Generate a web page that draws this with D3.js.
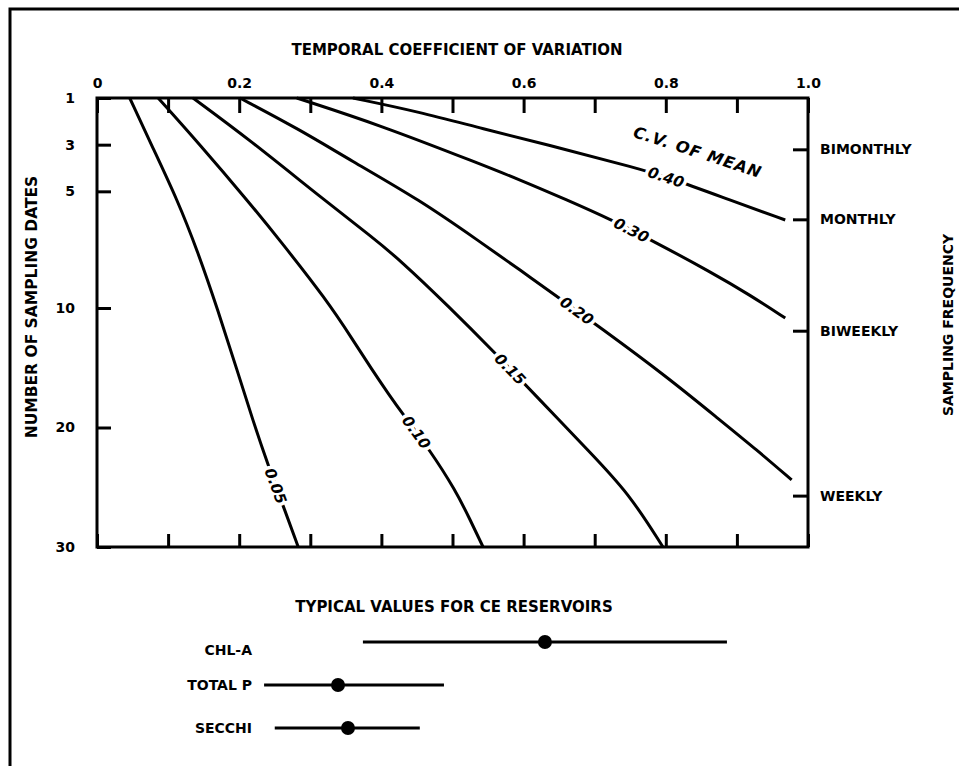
<!DOCTYPE html>
<html>
<head>
<meta charset="utf-8">
<script src="https://cdn.jsdelivr.net/npm/d3@7"></script>
<style>
body { margin: 0; background: #fff; }
text { font-family: "DejaVu Sans", sans-serif; font-weight: bold; fill: #000; }
</style>
</head>
<body>
<script>
// contour levels, c.v. of mean
var levels = ["0.05", "0.10", "0.15", "0.20", "0.30", "0.40"];

// points: [temporal c.v., number of sampling dates]
var curve005 = [[.046,1],[.080,3.23],[.113,5.37],[.141,7.52],[.170,10.17],[.197,15.19],[.219,19.37],[.242,23.39],[.264,26.90],[.283,30]];
var curve010 = [[.086,1],[.145,3.01],[.211,5.37],[.257,7.09],[.323,9.66],[.360,12.68],[.387,15.19],[.411,17.28],[.429,18.79],[.468,21.88],[.504,25.23],[.525,27.74],[.543,30]];
var curve015 = [[.135,1],[.215,2.80],[.316,5.29],[.387,6.96],[.426,7.94],[.494,9.91],[.560,13.77],[.623,17.70],[.693,22.05],[.748,25.50],[.796,30]];
var curve020 = [[.201,1],[.286,2.37],[.356,3.66],[.454,5.37],[.539,7.17],[.595,8.37],[.654,9.66],[.703,11.42],[.802,15.77],[.876,19.37],[.928,21.88],[.977,24.39]];
var curve030 = [[.281,1],[.398,2.16],[.539,3.83],[.595,4.51],[.661,5.37],[.724,6.23],[.774,7.00],[.866,8.50],[.918,9.44],[.968,10.84]];
var curve040 = [[.360,1],[.454,1.60],[.539,2.29],[.651,3.14],[.759,4.00],[.806,4.43],[.890,5.37],[.968,6.23]];
var curves = [curve005, curve010, curve015, curve020, curve030, curve040];
// sampling dates where each contour carries its label
var labelAt = [24.9, 20.4, 15.1, 10.25, 6.66, 4.39];

var xTicks = [0, .1, .2, .3, .4, .5, .6, .7, .8, .9, 1];
var xTickLabels = ["0", "0.2", "0.4", "0.6", "0.8", "1.0"];
var yTicks = [1, 3, 5, 10, 20, 30];
var freqNames = ["BIMONTHLY", "MONTHLY", "BIWEEKLY", "WEEKLY"];
var freqDates = [3.2, 6.2, 11.9, 25.7];

// typical values for CE reservoirs
var reservoirVars = ["CHL-A", "TOTAL P", "SECCHI"];
var rangeLow = [.374, .235, .250];
var rangeHigh = [.886, .488, .454];
var rangeTypical = [.630, .339, .353];

var svg = d3.select("body")
  .append("svg")
    .attr("width", 959)
    .attr("height", 766);

var x = d3.scaleLinear().domain([0, 1]).range([97, 808]);
var y = d3.scaleLinear().domain([1, 10, 30]).range([98, 308, 547]);

// outer frame (top and left only)
svg.append("path")
  .attr("d", "M10,766V9H959")
  .attr("fill", "none")
  .attr("stroke", "#000")
  .attr("stroke-width", 3);

// axes
var styleAxis = function(g, size) {
  g.select(".domain").remove();
  g.selectAll("line").attr("stroke", "#000").attr("stroke-width", 3);
  g.selectAll("text").style("font-size", size + "px");
};

svg.append("g")
  .attr("transform", "translate(0,98)")
  .call(d3.axisTop(x).tickValues(xTicks).tickSize(-15).tickPadding(10)
    .tickFormat(function(d, i) { return i % 2 == 0 ? xTickLabels[i / 2] : ""; }))
  .call(styleAxis, 14);

svg.append("g")
  .attr("transform", "translate(0,547)")
  .call(d3.axisBottom(x).tickValues(xTicks).tickSize(-13).tickFormat(""))
  .call(styleAxis, 14);

svg.append("g")
  .attr("transform", "translate(97,0)")
  .call(d3.axisLeft(y).tickValues(yTicks).tickSize(-14).tickPadding(22))
  .call(styleAxis, 14);

svg.append("g")
  .attr("transform", "translate(808,0)")
  .call(d3.axisRight(y).tickValues(freqDates).tickSize(-15).tickPadding(12)
    .tickFormat(function(d, i) { return freqNames[i]; }))
  .call(styleAxis, 14);

svg.append("rect")
  .attr("x", x(0)).attr("y", y(1))
  .attr("width", x(1) - x(0)).attr("height", y(30) - y(1))
  .attr("fill", "none")
  .attr("stroke", "#000")
  .attr("stroke-width", 3);

// contours
var line = d3.line()
  .x(function(d) { return x(d[0]); })
  .y(function(d) { return y(d[1]); })
  .curve(d3.curveBasis);

var paths = svg.append("g")
  .selectAll("path")
  .data(curves)
  .join("path")
    .attr("d", line)
    .attr("fill", "none")
    .attr("stroke", "#000")
    .attr("stroke-width", 3);

paths.each(function(d, i) {
  var node = this;
  var total = node.getTotalLength();
  var ty = y(labelAt[i]);
  var best = 0, bestDist = 1e9;
  for (var l = 0; l <= total; l += 1) {
    var p = node.getPointAtLength(l);
    if (Math.abs(p.y - ty) < bestDist) { bestDist = Math.abs(p.y - ty); best = l; }
  }
  var p0 = node.getPointAtLength(Math.max(0, best - 10));
  var p1 = node.getPointAtLength(Math.min(total, best + 10));
  var pc = node.getPointAtLength(best);
  var angle = Math.atan2(p1.y - p0.y, p1.x - p0.x) * 180 / Math.PI;
  svg.append("text")
    .attr("transform", "translate(" + pc.x + "," + pc.y + ") rotate(" + angle + ")")
    .attr("text-anchor", "middle")
    .attr("dy", "0.36em")
    .style("font-size", "15px")
    .style("font-style", "italic")
    .style("stroke", "#fff")
    .style("stroke-width", 7)
    .style("stroke-linejoin", "round")
    .style("paint-order", "stroke")
    .text(levels[i]);
});

svg.append("text")
  .attr("transform", "translate(" + x(.845) + "," + y(3.31) + ") rotate(18)")
  .attr("text-anchor", "middle")
  .attr("dy", "0.36em")
  .style("font-size", "16px")
  .style("font-style", "italic")
  .style("letter-spacing", "1px")
  .text("C.V. OF MEAN");

// titles
svg.append("text")
  .attr("x", 457).attr("y", 50)
  .attr("text-anchor", "middle")
  .attr("dy", "0.36em")
  .style("font-size", "15px")
  .text("TEMPORAL COEFFICIENT OF VARIATION");

svg.append("text")
  .attr("transform", "translate(31,307) rotate(-90)")
  .attr("text-anchor", "middle")
  .attr("dy", "0.36em")
  .style("font-size", "15.5px")
  .text("NUMBER OF SAMPLING DATES");

svg.append("text")
  .attr("transform", "translate(948,325) rotate(-90)")
  .attr("text-anchor", "middle")
  .attr("dy", "0.36em")
  .style("font-size", "14px")
  .text("SAMPLING FREQUENCY");

// typical values panel
var row = d3.scalePoint().domain(reservoirVars).range([642, 728]);

svg.append("text")
  .attr("x", 454).attr("y", 607)
  .attr("text-anchor", "middle")
  .attr("dy", "0.36em")
  .style("font-size", "15px")
  .text("TYPICAL VALUES FOR CE RESERVOIRS");

var rows = svg.append("g")
  .selectAll("g")
  .data(reservoirVars)
  .join("g")
    .attr("transform", function(d) { return "translate(0," + row(d) + ")"; });

rows.append("line")
  .attr("x1", function(d, i) { return x(rangeLow[i]); })
  .attr("x2", function(d, i) { return x(rangeHigh[i]); })
  .attr("stroke", "#000")
  .attr("stroke-width", 3);

rows.append("circle")
  .attr("cx", function(d, i) { return x(rangeTypical[i]); })
  .attr("r", 7)
  .attr("fill", "#000");

rows.append("text")
  .attr("x", 252)
  .attr("y", function(d, i) { return i == 0 ? 8 : 0; })
  .attr("text-anchor", "end")
  .attr("dy", "0.36em")
  .style("font-size", "14px")
  .text(function(d) { return d; });
</script>
</body>
</html>
